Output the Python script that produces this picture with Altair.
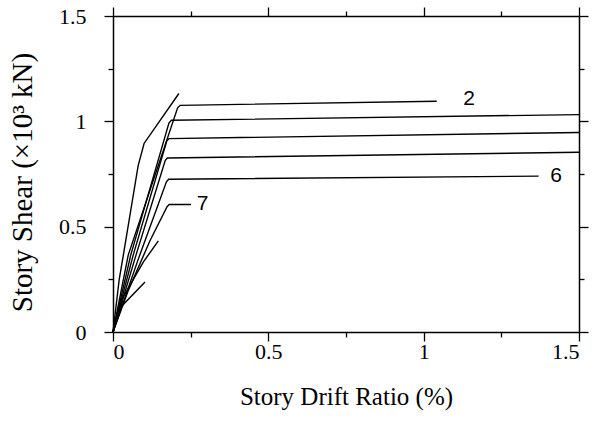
import altair as alt
import pandas as pd

# Story shear vs. story drift ratio envelopes, one polyline per story
drift_1 = [0.0, 0.020, 0.035, 0.081, 0.100, 0.212]
shear_1 = [0.0, 0.250, 0.380, 0.790, 0.895, 1.132]

drift_2 = [0.0, 0.049, 0.208, 0.216, 1.042]
shear_2 = [0.0, 0.365, 1.064, 1.076, 1.095]

drift_3 = [0.0, 0.057, 0.180, 0.188, 1.500]
shear_3 = [0.0, 0.365, 0.992, 1.005, 1.032]

drift_4 = [0.0, 0.065, 0.173, 0.180, 1.500]
shear_4 = [0.0, 0.365, 0.906, 0.918, 0.947]

drift_5 = [0.0, 0.074, 0.168, 0.175, 1.500]
shear_5 = [0.0, 0.365, 0.814, 0.826, 0.853]

drift_6 = [0.0, 0.080, 0.172, 0.179, 1.370]
shear_6 = [0.0, 0.340, 0.713, 0.725, 0.740]

drift_7 = [0.0, 0.050, 0.119, 0.174, 0.181, 0.251]
shear_7 = [0.0, 0.200, 0.433, 0.595, 0.605, 0.605]

drift_8 = [0.0, 0.033, 0.098, 0.146]
shear_8 = [0.0, 0.167, 0.333, 0.433]

drift_9 = [0.0, 0.0225, 0.103]
shear_9 = [0.0, 0.114, 0.237]

story_drifts = [drift_1, drift_2, drift_3, drift_4, drift_5, drift_6, drift_7, drift_8, drift_9]
story_shears = [shear_1, shear_2, shear_3, shear_4, shear_5, shear_6, shear_7, shear_8, shear_9]

# Story numbers written beside some curves
label_text = ["2", "6", "7"]
label_drift = [1.146, 1.426, 0.288]
label_shear = [1.105, 0.741, 0.607]

major_ticks = [0, 0.5, 1, 1.5]
minor_ticks = [0.25, 0.75, 1.25]

rows = []
for i, (dx, sy) in enumerate(zip(story_drifts, story_shears), start=1):
    for k, (d, s) in enumerate(zip(dx, sy)):
        rows.append({"story": i, "seq": k, "drift": d, "shear": s})
curves = pd.DataFrame(rows)
labels = pd.DataFrame({"text": label_text, "drift": label_drift, "shear": label_shear})

SERIF = "Liberation Serif"
SANS = "Liberation Sans"
INK = "#000000"

xs = alt.Scale(domain=[0, 1.5], nice=False, zero=False)
ys = alt.Scale(domain=[0, 1.5], nice=False, zero=False)

common = dict(grid=False, domainColor=INK, tickColor=INK, labelColor=INK,
              tickWidth=1.3, domainWidth=1.5)


def major_axis(orient, labels_on, **kw):
    opts = dict(common, orient=orient, values=major_ticks, tickSize=9,
                labels=labels_on, domain=True)
    opts.update(kw)
    return alt.Axis(**opts)


def minor_axis(orient):
    return alt.Axis(**dict(common, orient=orient, values=minor_ticks, tickSize=5,
                           labels=False, domain=False, title=""))


lines = alt.Chart(curves).mark_line(color=INK, strokeWidth=1.4).encode(
    x=alt.X("drift:Q", scale=xs, axis=major_axis(
        "bottom", True, format=".1~f", labelFont=SERIF, labelFontSize=22,
        labelPadding=0, title="Story Drift Ratio (%)", titleFont=SERIF,
        titleFontSize=25, titleFontWeight="normal", titleColor=INK, titlePadding=22)),
    y=alt.Y("shear:Q", scale=ys, axis=major_axis(
        "left", True, format=".1~f", labelFont=SERIF, labelFontSize=22,
        labelPadding=18, title="Story Shear (×10³ kN)", titleFont=SERIF,
        titleFontSize=29, titleFontWeight="normal", titleColor=INK,
        titleX=-91, titleY=166, titleBaseline="middle", titleAlign="center")),
    detail="story:N",
    order="seq:Q",
)

ghost = alt.Chart(curves).mark_point(opacity=0)

minor_bl = ghost.encode(
    x=alt.X("drift:Q", scale=xs, axis=minor_axis("bottom")),
    y=alt.Y("shear:Q", scale=ys, axis=minor_axis("left")),
)
major_tr = ghost.encode(
    x=alt.X("drift:Q", scale=xs, axis=major_axis("top", False, title="")),
    y=alt.Y("shear:Q", scale=ys, axis=major_axis("right", False, title="")),
)
minor_tr = ghost.encode(
    x=alt.X("drift:Q", scale=xs, axis=minor_axis("top")),
    y=alt.Y("shear:Q", scale=ys, axis=minor_axis("right")),
)

text = alt.Chart(labels).mark_text(font=SANS, fontSize=21, color=INK,
                                   align="center", baseline="middle").encode(
    x=alt.X("drift:Q", scale=xs, axis=None),
    y=alt.Y("shear:Q", scale=ys, axis=None),
    text="text:N",
)

chart = alt.layer(lines, minor_bl, major_tr, minor_tr, text).resolve_axis(
    x="independent", y="independent"
).properties(
    width=466, height=316,
    autosize=alt.AutoSizeParams(type="none"),
    padding={"left": 113, "top": 16, "right": 19, "bottom": 90},
    background="white",
).configure_view(stroke=None)

chart.save("out.html", embed_options={"renderer": "svg", "actions": False})
